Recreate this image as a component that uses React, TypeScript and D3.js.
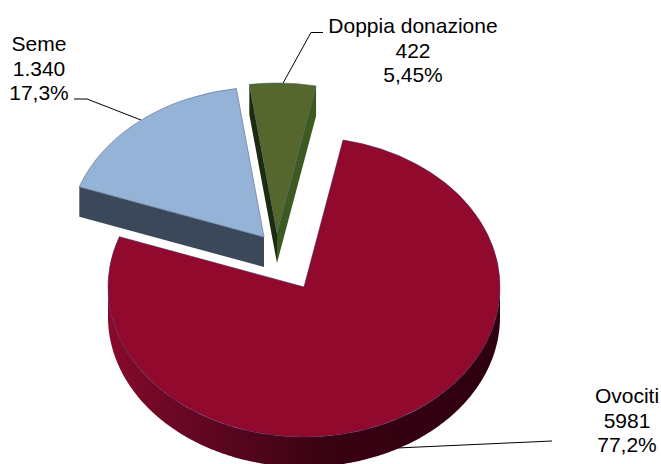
import React from 'react';
import * as d3 from 'd3';

const categories = ['Ovociti', 'Seme', 'Doppia donazione'];
const values = [5981, 1340, 422];
const valueLabels = ['5981', '1.340', '422'];
const percentLabels = ['77,2%', '17,3%', '5,45%'];
const topColors = ['#910a2d', '#95b3d7', '#55672d'];

const width = 661;
const height = 464;
const rx = 196;
const ry = 150;
const depth = 30;
const startAngle = (11.5 * Math.PI) / 180;

// where each slice's apex ends up once it is pulled out of the pie
const centers = [
  { x: 304, y: 287 },
  { x: 264, y: 237 },
  { x: 277, y: 233 },
];

const labelPos = [
  { x: 627, y: 403, leader: [[552, 441], [397, 448]] },
  { x: 39, y: 51, leader: [[74, 99], [87, 99], [141, 120]] },
  { x: 413, y: 33, leader: [[323, 32.5], [311, 32.5], [282, 85]] },
];

const pie = d3.pie<number>().sort(null).startAngle(startAngle).endAngle(startAngle + 2 * Math.PI);
const slices = pie(values);

const arc = d3.arc<d3.PieArcDatum<number>>().innerRadius(0).outerRadius(rx);

const onRim = (a: number, c: { x: number; y: number }, dy = 0): [number, number] => [
  c.x + rx * Math.sin(a),
  c.y - ry * Math.cos(a) + dy,
];

const line = d3.line();

// outer wall of the disc between two angles
const rimWall = (a0: number, a1: number, c: { x: number; y: number }) => {
  const angles = d3.range(a0, a1, 0.01).concat(a1);
  const top = angles.map((a) => onRim(a, c));
  const bottom = angles.map((a) => onRim(a, c, depth)).reverse();
  return line([...top, ...bottom]) + 'Z';
};

// flat cut face from the apex to the rim
const cutWall = (a: number, c: { x: number; y: number }) =>
  line([[c.x, c.y], onRim(a, c), onRim(a, c, depth), [c.x, c.y + depth]]) + 'Z';

export default function App() {
  const [red, blue, green] = slices;
  return (
    <svg
      width={width}
      height={height}
      style={{ position: 'absolute', left: 0, top: 0, background: '#fff' }}
      fontFamily="'Liberation Sans', Arial, sans-serif"
      fontSize={21}
    >
      <defs>
        <linearGradient id="redWall" gradientUnits="userSpaceOnUse" x1={108} x2={500} y1={0} y2={0}>
          <stop offset="0" stopColor="#8a0a2c" />
          <stop offset="0.12" stopColor="#720826" />
          <stop offset="0.3" stopColor="#5a0620" />
          <stop offset="0.55" stopColor="#3a0212" />
          <stop offset="1" stopColor="#2e0010" />
        </linearGradient>
      </defs>

      {labelPos.map((l, i) => (
        <polyline key={i} points={l.leader.join(' ')} fill="none" stroke="#000" strokeWidth={1} />
      ))}

      {/* Ovociti */}
      <path d={rimWall(Math.PI / 2, (3 * Math.PI) / 2, centers[0])} fill="url(#redWall)" />
      <path
        d={arc(red) as string}
        transform={`translate(${centers[0].x},${centers[0].y}) scale(1,${ry / rx})`}
        fill={topColors[0]}
        stroke="#4a1a55"
        strokeWidth={0.6}
        vectorEffect="non-scaling-stroke"
      />

      {/* Seme */}
      <path d={cutWall(blue.startAngle, centers[1])} fill="#3b4859" />
      <path
        d={arc(blue) as string}
        transform={`translate(${centers[1].x},${centers[1].y}) scale(1,${ry / rx})`}
        fill={topColors[1]}
        stroke="#6b83a3"
        strokeWidth={0.8}
        vectorEffect="non-scaling-stroke"
      />

      {/* Doppia donazione */}
      <path d={cutWall(green.startAngle, centers[2])} fill="#1c2c10" />
      <path d={cutWall(green.endAngle - 2 * Math.PI, centers[2])} fill="#3e5a20" />
      <path
        d={arc(green) as string}
        transform={`translate(${centers[2].x},${centers[2].y}) scale(1,${ry / rx})`}
        fill={topColors[2]}
        stroke="#3e5a50"
        strokeWidth={0.6}
        vectorEffect="non-scaling-stroke"
      />

      {categories.map((name, i) => (
        <text key={name} x={labelPos[i].x} y={labelPos[i].y} textAnchor="middle" fill="#000">
          <tspan x={labelPos[i].x}>{name}</tspan>
          <tspan x={labelPos[i].x} dy={24.5}>{valueLabels[i]}</tspan>
          <tspan x={labelPos[i].x} dy={24.5}>{percentLabels[i]}</tspan>
        </text>
      ))}
    </svg>
  );
}
